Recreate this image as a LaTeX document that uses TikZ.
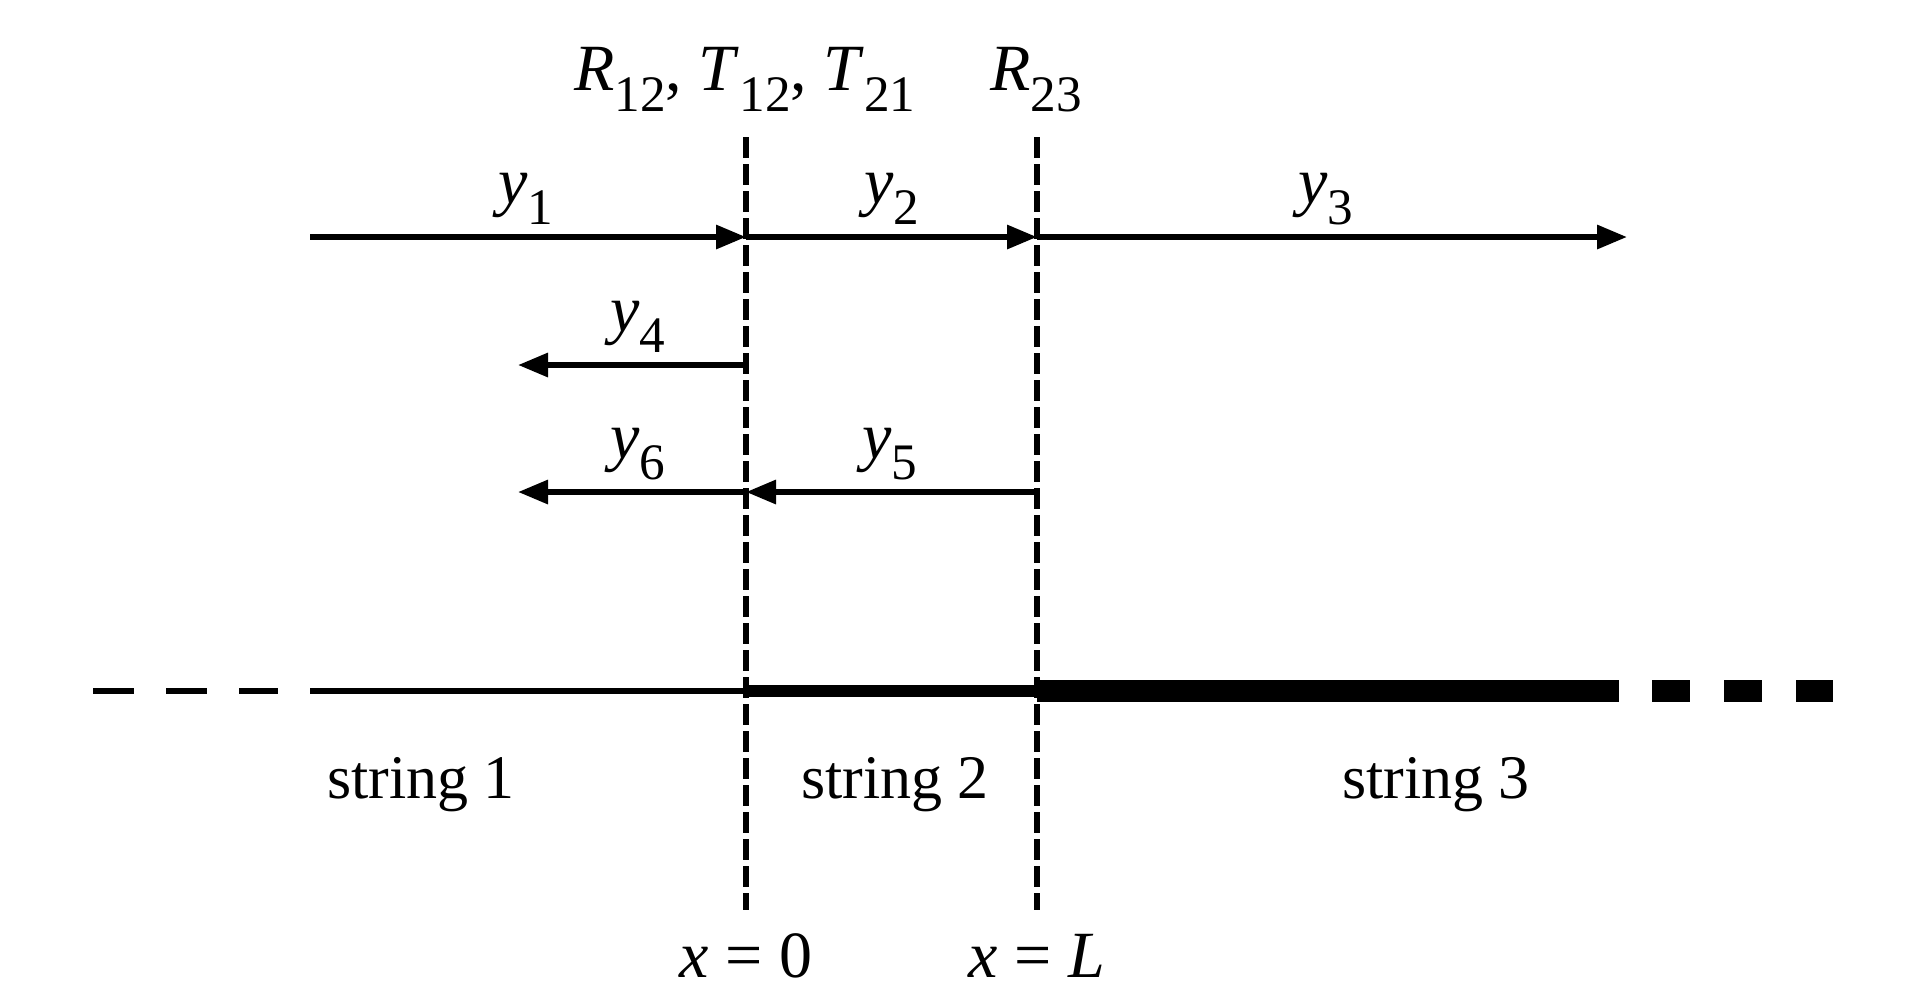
\documentclass[tikz,border=0pt]{standalone}
\usepackage{fontspec}
\setmainfont{Liberation Serif}
\usetikzlibrary{arrows.meta}
\newcommand{\sbs}[1]{\raisebox{-0.33em}{\fontsize{12.8pt}{12.8pt}\selectfont #1}}
\newcommand{\mi}[1]{\textit{#1}}
\begin{document}
\begin{tikzpicture}[x=0.25pt,y=-0.25pt,
  wave/.style={line width=1.4pt,-{Triangle[length=7.5pt,width=5.8pt]}},
  iface/.style={line width=1.33pt,dash pattern=on 5.25pt off 1.5pt},
  strthin/.style={line width=1.45pt},
  strmid/.style={line width=3.2pt},
  strthick/.style={line width=5.4pt},
  lbl/.style={anchor=base,inner sep=0pt,font=\fontsize{16.5pt}{18pt}\selectfont},
  slbl/.style={anchor=base,inner sep=0pt,font=\fontsize{15.5pt}{18pt}\selectfont}]
\useasboundingbox (0,0) rectangle (1925,999);

% interfaces
\coordinate (I0t) at (746,137);
\coordinate (I0b) at (746,910);
\coordinate (ILt) at (1037,137);
\coordinate (ILb) at (1037,910);
\draw[iface] (I0t) -- (I0b);
\draw[iface] (ILt) -- (ILb);

% wave arrows
\coordinate (A1) at (310,237);
\coordinate (A0) at (746,237);
\coordinate (AL) at (1037,237);
\coordinate (A3) at (1627,237);
\draw[wave] (A1) -- (A0);
\draw[wave] (A0) -- (AL);
\draw[wave] (AL) -- (A3);

\coordinate (B0) at (746,365);
\coordinate (B1) at (518,365);
\draw[wave] (B0) -- (B1);

\coordinate (C0) at (746,492);
\coordinate (C1) at (518,492);
\coordinate (CL) at (1037,492);
\draw[wave] (C0) -- (C1);
\draw[wave] (CL) -- (C0);

% labels of waves
\node[lbl] (ly1) at (526,203) {\mi{y}\sbs{1}};
\node[lbl] (ly2) at (892,203) {\mi{y}\sbs{2}};
\node[lbl] (ly3) at (1326,203) {\mi{y}\sbs{3}};
\node[lbl] (ly4) at (638,331) {\mi{y}\sbs{4}};
\node[lbl] (ly6) at (638,458) {\mi{y}\sbs{6}};
\node[lbl] (ly5) at (890,458) {\mi{y}\sbs{5}};

% coefficient labels
\node[lbl] (coef0) at (745,90) {\mi{R}\sbs{12}, \mi{T}\sbs{12}, \mi{T}\sbs{21}};
\node[lbl] (coefL) at (1036,90) {\mi{R}\sbs{23}};

% strings
\coordinate (S0) at (93,691);
\coordinate (S1) at (278,691);
\coordinate (S2) at (310,691);
\coordinate (S3) at (746,691);
\coordinate (S4) at (1037,691);
\coordinate (S5) at (1619,691);
\coordinate (S6) at (1652,691);
\coordinate (S7) at (1833,691);
\draw[strthin,dash pattern=on 10.25pt off 8pt] (S0) -- (S1);
\draw[strthin] (S2) -- (S3);
\draw[strmid] (S3) -- (S4);
\draw[strthick] (S4) -- (S5);
\draw[strthick,dash pattern=on 9.5pt off 8.5pt] (S6) -- (S7);

\node[slbl] (st1) at (421,798) {string 1};
\node[slbl] (st2) at (895,798) {string 2};
\node[slbl] (st3) at (1436,798) {string 3};

\node[lbl] (x0) at (746,977) {\mi{x} = 0};
\node[lbl] (xL) at (1037,977) {\mi{x} = \mi{L}};
\end{tikzpicture}
\end{document}
